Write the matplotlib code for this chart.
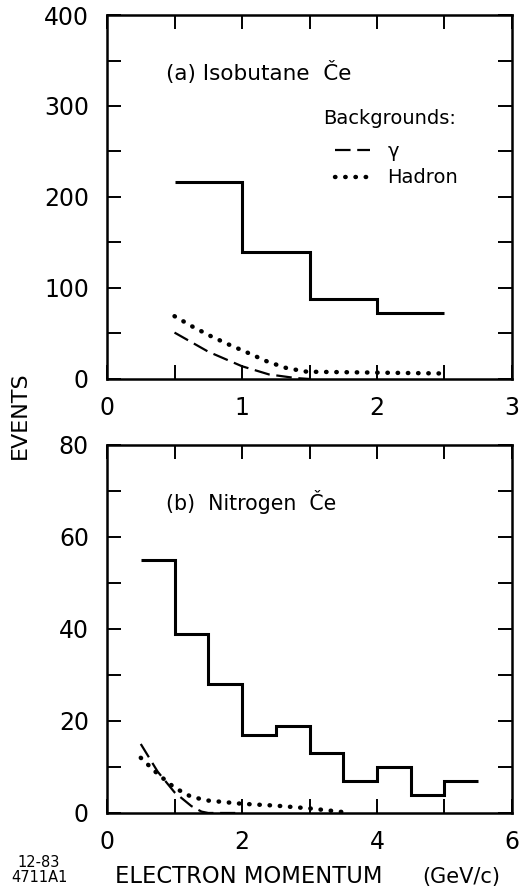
# two-panel event spectra (isobutane / nitrogen Cerenkov) with background curves

import matplotlib
matplotlib.use('Agg')
import matplotlib.pyplot as plt
from matplotlib.ticker import MultipleLocator
from matplotlib.lines import Line2D

# (a) isobutane
iso_edges = [0.5, 1.0, 1.5, 2.0, 2.5]
iso_counts = [216, 140, 88, 73]
iso_gamma_p = [0.5, 0.75, 1.0, 1.2, 1.4, 1.5]
iso_gamma = [51, 30, 14, 5, 1, 0]
iso_hadron_p = [0.5, 0.64, 0.77, 0.9, 1.04, 1.19, 1.33, 1.48, 2.0, 2.52]
iso_hadron = [69, 57, 47, 38, 29, 19, 12, 8, 7, 6]

# (b) nitrogen
n2_edges = [0.5, 1.0, 1.5, 2.0, 2.5, 3.0, 3.5, 4.0, 4.5, 5.0, 5.5]
n2_counts = [55, 39, 28, 17, 19, 13, 7, 10, 4, 7]
n2_gamma_p = [0.5, 0.75, 1.0, 1.25, 1.4, 1.5, 1.9]
n2_gamma = [15, 9, 4.5, 1.5, 0.3, 0, 0]
n2_hadron_p = [0.5, 0.75, 1.0, 1.25, 1.5, 2.0, 2.5, 3.0, 3.5]
n2_hadron = [12, 8.5, 5.5, 3.5, 2.7, 2.0, 1.6, 1.0, 0.2]

plt.rcParams['font.family'] = 'DejaVu Sans'

dash_style = dict(color='k', lw=1.6, linestyle=(0, (7, 3)))
dot_style = dict(color='k', lw=3.2, linestyle=(0, (0.1, 2.2)),
                 dash_capstyle='round')


def pepperAxes(ax, xmax, ymax, xmaj, xmin, ymaj, ymin):
    ax.set_xlim(0, xmax)
    ax.set_ylim(0, ymax)
    ax.xaxis.set_major_locator(MultipleLocator(xmaj))
    ax.xaxis.set_minor_locator(MultipleLocator(xmin))
    ax.yaxis.set_major_locator(MultipleLocator(ymaj))
    ax.yaxis.set_minor_locator(MultipleLocator(ymin))
    for which in ('major', 'minor'):
        ax.tick_params(which=which, direction='in', length=10, width=1.4,
                       top=True, right=True)
    ax.tick_params(axis='x', labelsize=17, pad=12.5)
    ax.tick_params(axis='y', labelsize=17, pad=13)
    for s in ax.spines.values():
        s.set_linewidth(1.8)


fig = plt.figure(figsize=(5.2, 8.93), dpi=100)
ax1 = fig.add_axes([0.2058, 0.5756, 0.7788, 0.4076])
ax2 = fig.add_axes([0.2058, 0.0896, 0.7788, 0.4121])

# panel (a)
ax1.stairs(iso_counts, iso_edges, baseline=None, color='k', lw=2.2)
ax1.plot(iso_gamma_p, iso_gamma, **dash_style)
ax1.plot(iso_hadron_p, iso_hadron, **dot_style)
pepperAxes(ax1, 3, 400, 1, 0.5, 100, 50)
ax1.text(0.44, 337, '(a) Isobutane  Če', fontsize=15.5, va='center')
ax1.text(0.533, 0.717, 'Backgrounds:', fontsize=14, va='center',
         transform=ax1.transAxes)
handles = [Line2D([], [], **dash_style), Line2D([], [], **dot_style)]
leg = ax1.legend(handles, ['γ', 'Hadron'],
                 loc='upper left', bbox_to_anchor=(0.563, 0.652),
                 frameon=False, fontsize=14,
                 handlelength=1.8, handletextpad=0.9, labelspacing=0.4,
                 borderpad=0, borderaxespad=0)

# panel (b)
ax2.stairs(n2_counts, n2_edges, baseline=None, color='k', lw=2.2)
ax2.plot(n2_gamma_p, n2_gamma, **dash_style)
ax2.plot(n2_hadron_p, n2_hadron, **dot_style)
pepperAxes(ax2, 6, 80, 2, 1, 20, 10)
ax2.text(0.87, 67.6, '(b)  Nitrogen  Če', fontsize=14.8, va='center')

fig.text(0.038, 0.535, 'EVENTS', rotation=90, fontsize=16,
         ha='center', va='center')
fig.text(0.221, 0.018, 'ELECTRON MOMENTUM', fontsize=16.3, va='center')
fig.text(0.8115, 0.018, '(GeV/c)', fontsize=15, va='center')
fig.text(0.075, 0.0336, '12-83', fontsize=10.5, ha='center', va='center')
fig.text(0.075, 0.0168, '4711A1', fontsize=10.5, ha='center', va='center')

fig.savefig('out.png', dpi=100)
